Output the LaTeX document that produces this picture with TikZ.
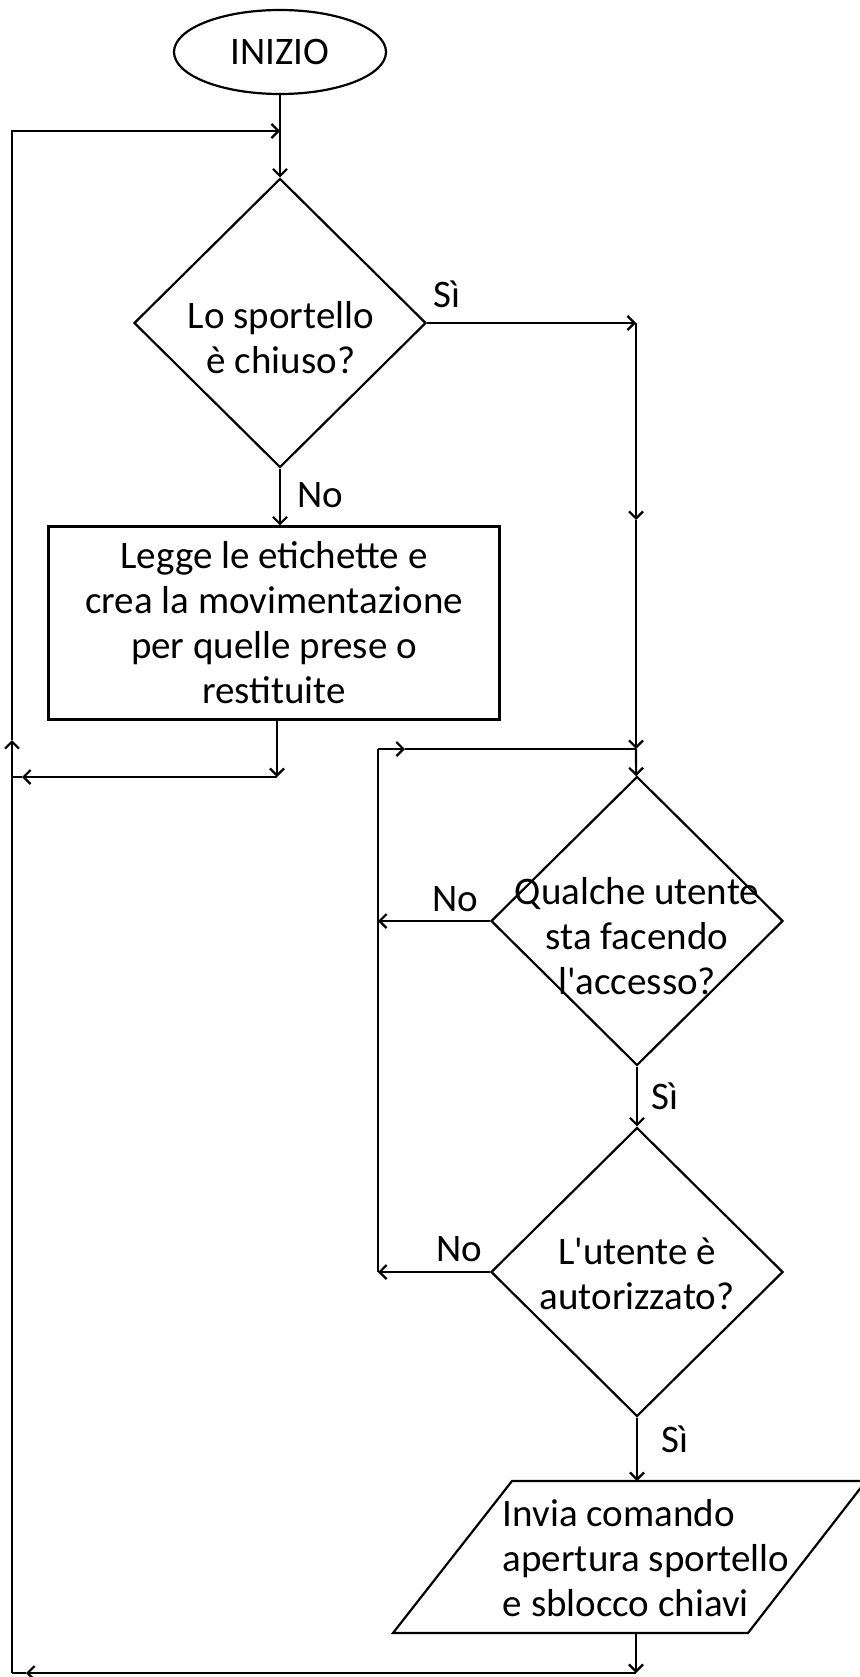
\documentclass[tikz,border=0pt]{standalone}
\usepackage{fontspec}
\setmainfont{Carlito}
\usetikzlibrary{positioning,shapes.geometric,arrows.meta}

\begin{document}
\begin{tikzpicture}[%
        x=1pt, y=-1pt,
        line width=2.2pt,
        >={Straight Barb[length=7pt,width=14pt]},
        txt/.style={font=\fontsize{39}{45}\selectfont, align=center, inner sep=0pt},
        startstop/.style={%
          ellipse, draw,
          minimum width=212, minimum height=84,
          txt
        },
        decision/.style={diamond, draw, minimum width=292, minimum height=289, inner sep=0pt},
        process/.style={rectangle, draw, minimum width=451, minimum height=193, txt}
      ]
      \useasboundingbox (0,0) rectangle (859,1677);

      \node[startstop] (start) at (280,52) {INIZIO};
      \node[decision] (d1) at (280,323) {};
      \node[txt] (d1t) at (281,338) {Lo sportello\\è chiuso?};
      \node[process] (leggi) at (274,623) {Legge le etichette e\\crea la movimentazione\\per quelle prese o\\restituite};
      \node[decision] (d2) at (637,921) {};
      \node[txt] (d2t) at (637,936) {Qualche utente\\sta facendo\\l\textquotesingle accesso?};
      \node[decision] (d3) at (637,1272) {};
      \node[txt] (d3t) at (637,1274) {L\textquotesingle utente è\\autorizzato?};

      \coordinate (pa) at (393,1633);
      \coordinate (pb) at (512,1481);
      \coordinate (pc) at (866,1481);
      \coordinate (pd) at (748,1633);
      \draw (pa) -- (pb) -- (pc) -- (pd) -- cycle;
      \node[txt, align=left] (inviat) at (646,1558) {Invia comando\\apertura sportello\\e sblocco chiavi};

      \node[txt] (si1) at (447,294) {Sì};
      \node[txt] (no1) at (320,495) {No};
      \node[txt] (no2) at (455,899) {No};
      \node[txt] (si2) at (665,1096) {Sì};
      \node[txt] (no3) at (459,1249) {No};
      \node[txt] (si3) at (675,1439) {Sì};

      \coordinate (top) at (280,131);
      \coordinate (sw) at (12,131);
      \coordinate (lup) at (12,740);
      \coordinate (lj) at (12,777);
      \coordinate (r1) at (277,777);
      \coordinate (r1tip) at (22,777);
      \coordinate (sidn) at (636,520);
      \coordinate (jn) at (636,749);
      \coordinate (lp) at (378,749);
      \coordinate (lptip) at (405,749);
      \coordinate (bot) at (636,1673);
      \coordinate (bottip) at (26,1673);
      \coordinate (botl) at (12,1673);

      \path (start) edge [->] (d1)
      (d2) edge [->] (d3)
      (d1.south) edge [->] (d1.south |- leggi.north)
      (d3.south) edge [->] (d3.south |- pb)
      (d1.east) edge [->] (d1.east -| jn)
      (d1.east -| jn) edge [->] (sidn)
      (sidn) edge [->] (jn)
      (jn) edge [->] (d2)
      (d2.west) edge [->] (d2.west -| lp)
      (d3.west) edge [->] (d3.west -| lp);

      \draw (d3.west -| lp) -- (lp);
      \draw[->] (lp) -- (lptip);
      \draw (lptip) -- (jn);

      \draw[->] (leggi.south -| r1) -- (r1);
      \draw[->] (r1) -- (r1tip);
      \draw (r1tip) -- (lj);

      \draw[->] (pa -| bot) -- (bot);
      \draw[->] (bot) -- (bottip);
      \draw (bottip) -- (botl);
      \draw[->] (botl) -- (lup);
      \draw[->] (lup) -- (sw) -- (top);

  \end{tikzpicture}
\end{document}
